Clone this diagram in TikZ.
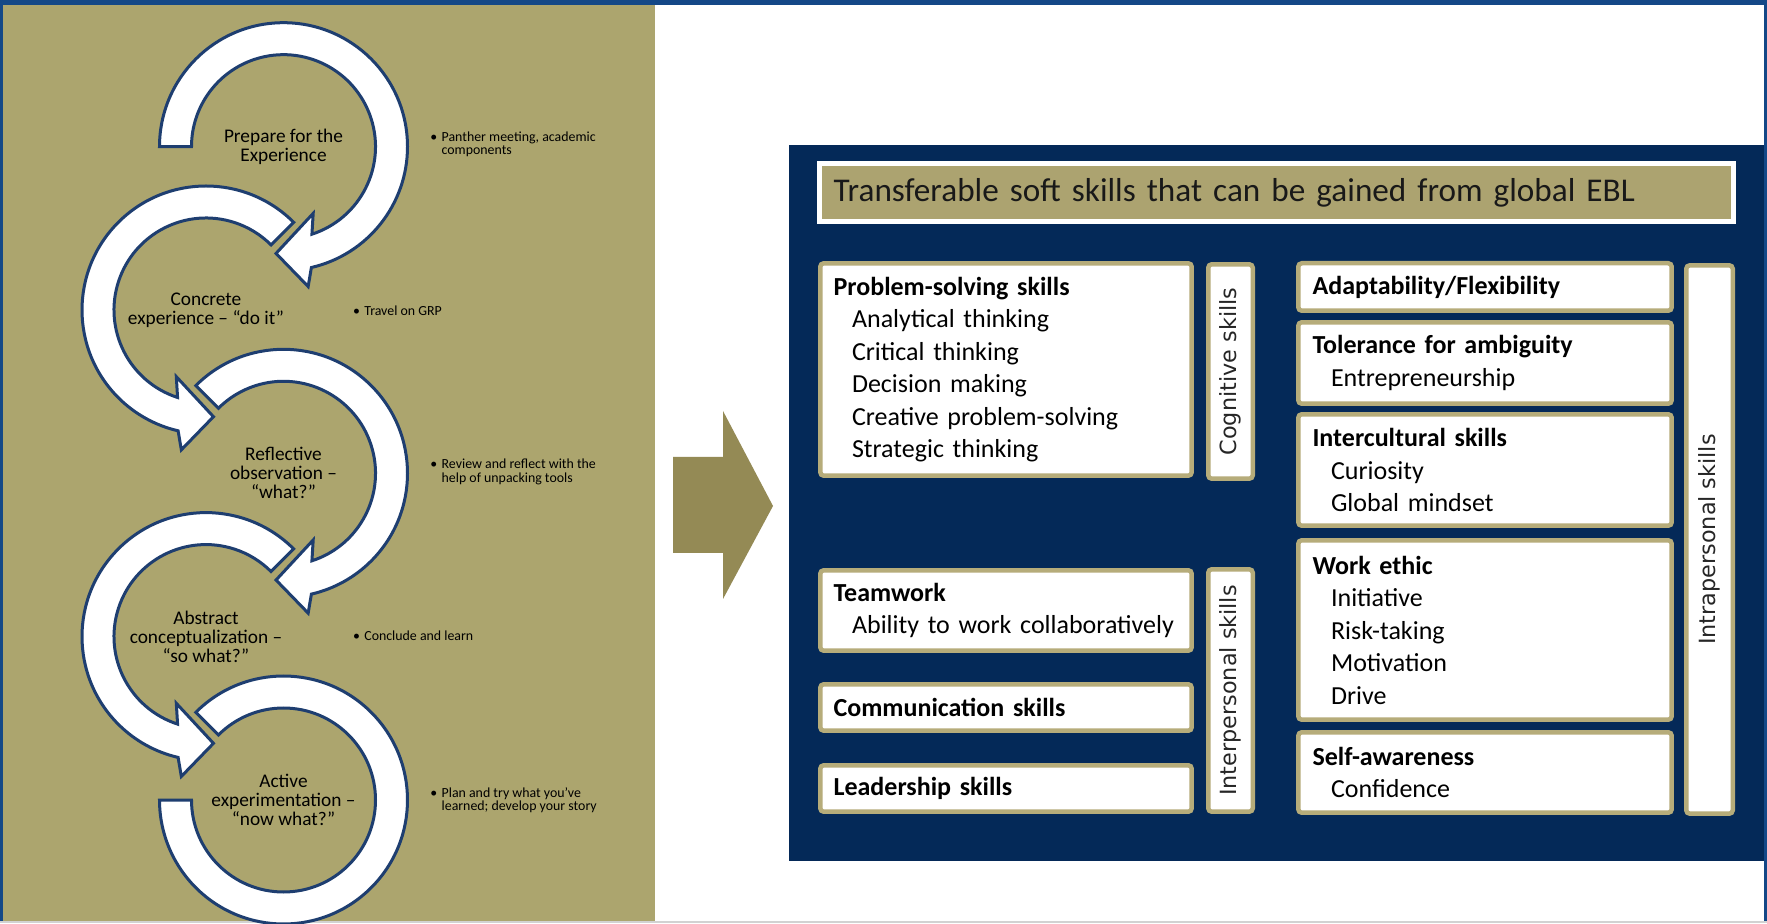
\documentclass[tikz,border=0pt]{standalone}
\usepackage{fontspec}
\usepackage{tikz}
\usetikzlibrary{positioning, calc}

\definecolor{framblue}{RGB}{20, 72, 135}
\definecolor{paneltan}{RGB}{172, 165, 110}
\definecolor{arrowolive}{RGB}{148, 138, 85}
\definecolor{eblnavy}{RGB}{4, 41, 88}
\definecolor{ringnavy}{RGB}{30, 62, 112}
\definecolor{boxtan}{RGB}{182, 172, 122}
\definecolor{bannertan}{RGB}{172, 163, 112}

\newfontfamily\carlito{Carlito}
\newfontfamily\dejavu{DejaVu Sans}

\newcommand{\cyclefont}{\carlito\fontsize{11}{10.8}\selectfont}
\newcommand{\notefont}{\carlito\fontsize{7.9}{7.6}\selectfont}
\newcommand{\skillfont}{\carlito\fontsize{14.8}{18.5}\selectfont}
\newcommand{\sidefont}{\dejavu\fontsize{12.7}{12.7}\selectfont}
\newcommand{\bannerfont}{\carlito\fontsize{18.9}{20}\selectfont}
\newcommand{\skind}{\hspace*{0.37cm}}

\tikzset{
  ring/.style={fill=white, draw=ringnavy, line width=0.06cm},
  stagelabel/.style={font=\cyclefont, align=center, inner sep=0pt},
  note/.style={font=\notefont, anchor=west, inner sep=0pt},
  skillbox/.style={draw=boxtan, fill=white, line width=0.09cm, rounded corners=2pt, align=left, font=\skillfont, text width=6.9cm, inner sep=0pt},
  sidebox/.style={draw=boxtan, fill=white, line width=0.09cm, rounded corners=2pt, rotate=90, font=\sidefont, text=black!85, inner sep=0pt},
  banner/.style={draw=white, fill=bannertan, line width=0.1cm, align=left, font=\bannerfont, text=black!90, inner sep=0pt}
}

\begin{document}
\begin{tikzpicture}[x=0.02cm, y=0.02cm]
  \useasboundingbox (0,0) rectangle (1767,923);

  % Slide background and frame
  \fill[white] (0,0) rectangle (1767,923);
  \fill[paneltan] (3,2) rectangle (655,918);
  \fill[framblue] (0,918) rectangle (1767,923);
  \fill[framblue] (0,0) rectangle (3,923);
  \fill[framblue] (1764,0) rectangle (1767,923);
  \fill[gray!35] (0,0) rectangle (1767,2);

  % Ring centres
  \coordinate (c1) at (283.5,776.3);
  \coordinate (c2) at (206,613);
  \coordinate (c3) at (283.5,449.7);
  \coordinate (c4) at (206,286.4);
  \coordinate (c5) at (283.5,123);

  % Cycle rings
  \begin{scope}[shift={(c1)}]
    \draw[ring] (180:124) arc[start angle=180, end angle=-77, radius=124] -- (-80:142) -- (-94:107) -- (-66:73) -- (-72:92) arc[start angle=-72, end angle=180, radius=92] -- cycle;
  \end{scope}
  \begin{scope}[shift={(c2)}]
    \draw[ring] (45:124) arc[start angle=45, end angle=257, radius=124] -- (260:142) -- (274:107) -- (246:73) -- (252:92) arc[start angle=252, end angle=45, radius=92] -- cycle;
  \end{scope}
  \begin{scope}[shift={(c3)}]
    \draw[ring] (135:124) arc[start angle=135, end angle=-77, radius=124] -- (-80:142) -- (-94:107) -- (-66:73) -- (-72:92) arc[start angle=-72, end angle=135, radius=92] -- cycle;
  \end{scope}
  \begin{scope}[shift={(c4)}]
    \draw[ring] (45:124) arc[start angle=45, end angle=257, radius=124] -- (260:142) -- (274:107) -- (246:73) -- (252:92) arc[start angle=252, end angle=45, radius=92] -- cycle;
  \end{scope}
  \begin{scope}[shift={(c5)}]
    \draw[ring] (135:124) arc[start angle=135, end angle=-180, radius=124] -- (-180:92) arc[start angle=-180, end angle=135, radius=92] -- cycle;
  \end{scope}

  % Stage labels
  \node[stagelabel] (prepare) at (c1) {Prepare for the\\Experience};
  \node[stagelabel] (concrete) at (c2) {Concrete\\experience – “do it”};
  \node[stagelabel] (reflect) at (c3) {Reflective\\observation –\\“what?”};
  \node[stagelabel] (abstract) at (c4) {Abstract\\conceptualization –\\“so what?”};
  \node[stagelabel] (active) at (c5) {Active\\experimentation –\\“now what?”};

  % Notes beside the stages
  \node[note] (preparenote) at (430,778) {\begin{tabular}{@{}l@{\hspace{2.5pt}}l@{}}•&Panther meeting, academic\\&components\end{tabular}};
  \node[note] (concretenote) at (352.7,612.3) {•\hspace{2.5pt}Travel on GRP};
  \node[note] (reflectnote) at (430,450.2) {\begin{tabular}{@{}l@{\hspace{2.5pt}}l@{}}•&Review and reflect with the\\&help of unpacking tools\end{tabular}};
  \node[note] (abstractnote) at (352.7,287.3) {•\hspace{2.5pt}Conclude and learn};
  \node[note] (activenote) at (430,122) {\begin{tabular}{@{}l@{\hspace{2.5pt}}l@{}}•&Plan and try what you’ve\\&learned; develop your story\end{tabular}};

  % Big arrow
  \fill[arrowolive] (673,466) -- (723,466) -- (723,512) -- (773,417) -- (723,324) -- (723,370) -- (673,370) -- cycle;

  % Skills panel
  \fill[eblnavy] (789,62) rectangle (1764,778);
  \node[banner, minimum width=18.28cm, minimum height=1.16cm, text width=17.72cm] (banner) at (1276.5,730.5) {Transferable soft skills that can be gained from global EBL};

  % Cognitive and interpersonal column
  \node[skillbox, minimum width=7.43cm, minimum height=4.25cm] (problem) at (1006,553.5) {\textbf{Problem-solving skills}\\\skind Analytical thinking\\\skind Critical thinking\\\skind Decision making\\\skind Creative problem-solving\\\skind Strategic thinking};
  \node[skillbox, minimum width=7.43cm, minimum height=1.61cm] (teamwork) at (1006,312.5) {\textbf{Teamwork}\\\skind Ability to work collaboratively};
  \node[skillbox, minimum width=7.43cm, minimum height=0.93cm] (communic) at (1006,215.5) {\textbf{Communication skills}};
  \node[skillbox, minimum width=7.43cm, minimum height=0.93cm] (leader) at (1006,134.5) {\textbf{Leadership skills}};
  \node[sidebox, minimum width=4.29cm, minimum height=0.89cm] (cognitive) at (1230.5,551.5) {Cognitive skills};
  \node[sidebox, minimum width=4.85cm, minimum height=0.89cm] (interpers) at (1230.5,232.5) {Interpersonal skills};

  % Intrapersonal column
  \node[skillbox, minimum width=7.47cm, minimum height=0.95cm] (adapt) at (1485,636) {\textbf{Adaptability/Flexibility}};
  \node[skillbox, minimum width=7.47cm, minimum height=1.63cm] (tolerance) at (1485,560) {\textbf{Tolerance for ambiguity}\\\skind Entrepreneurship};
  \node[skillbox, minimum width=7.47cm, minimum height=2.23cm] (intercult) at (1485,453) {\textbf{Intercultural skills}\\\skind Curiosity\\\skind Global mindset};
  \node[skillbox, minimum width=7.47cm, minimum height=3.59cm] (workethic) at (1485,293) {\textbf{Work ethic}\\\skind Initiative\\\skind Risk-taking\\\skind Motivation\\\skind Drive};
  \node[skillbox, minimum width=7.47cm, minimum height=1.61cm] (selfaware) at (1485,150.5) {\textbf{Self-awareness}\\\skind Confidence};
  \node[sidebox, minimum width=10.97cm, minimum height=0.93cm] (intrapers) at (1709.5,383.5) {Intrapersonal skills};
\end{tikzpicture}
\end{document}
